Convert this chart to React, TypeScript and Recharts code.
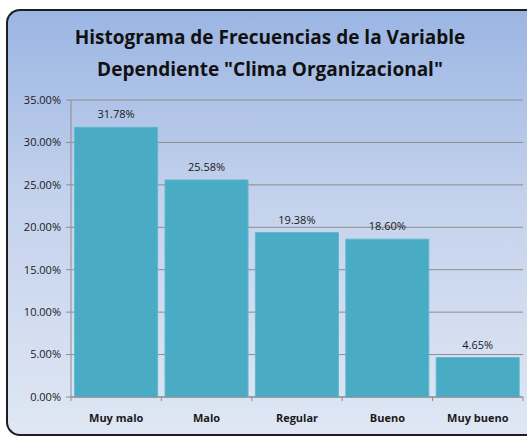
import { BarChart, Bar, XAxis, YAxis, CartesianGrid, LabelList } from "recharts";

const categories = ["Muy malo", "Malo", "Regular", "Bueno", "Muy bueno"];
const frequencies = [31.78, 25.58, 19.38, 18.6, 4.65];
const yTicks = [0, 5, 10, 15, 20, 25, 30, 35];

const data = categories.map((name, i) => ({ name, value: frequencies[i] }));

const FONT = "'Open Sans', 'Noto Sans', sans-serif";
const BAND = 90.4;

const pct = (v: number) => `${v.toFixed(2)}%`;

function CatTick(props: any) {
  const { x, payload, index } = props;
  const axisY = 397;
  return (
    <g>
      <line x1={x - BAND / 2} x2={x - BAND / 2} y1={axisY} y2={axisY + 4} stroke="#8c8c8c" />
      {index === categories.length - 1 && (
        <line x1={x + BAND / 2} x2={x + BAND / 2} y1={axisY} y2={axisY + 4} stroke="#8c8c8c" />
      )}
      <text x={x} y={axisY + 25} textAnchor="middle" fontSize={11} fontWeight={700} fill="#1a1a1a" fontFamily={FONT}>
        {payload.value}
      </text>
    </g>
  );
}

export default function App() {
  return (
    <div style={{ position: "fixed", left: 0, top: 0, width: 527, height: 438, overflow: "hidden", background: "#fff" }}>
      <div
        style={{
          position: "absolute",
          left: 6,
          top: 9,
          width: 560,
          height: 423,
          borderTop: "2px solid #1e1e1e",
          borderLeft: "2px solid #1e1e1e",
          borderBottom: "2px solid #1e1e1e",
          borderTopLeftRadius: 14,
          borderBottomLeftRadius: 14,
          background: "linear-gradient(to bottom, #9bb5e3 0%, #c4d2ec 45%, #dfe7f4 100%)",
        }}
      />
      <div
        style={{
          position: "absolute",
          left: 7,
          top: 21,
          width: 526,
          textAlign: "center",
          fontFamily: FONT,
          fontWeight: 700,
          fontSize: 19,
          lineHeight: "32px",
          color: "#111",
        }}
      >
        Histograma de Frecuencias de la Variable
        <br />
        Dependiente "Clima Organizacional"
      </div>
      <div style={{ position: "absolute", left: 0, top: 0 }}>
        <BarChart
          width={527}
          height={438}
          data={data}
          margin={{ top: 100, right: 4, bottom: 0, left: 0 }}
          barCategoryGap="4%"
        >
          <CartesianGrid vertical={false} stroke="#8c8c8c" />
          <XAxis
            dataKey="name"
            axisLine={{ stroke: "#8c8c8c" }}
            tickLine={false}
            tick={<CatTick />}
            interval={0}
            height={41}
          />
          <YAxis
            width={71}
            domain={[0, 35]}
            ticks={yTicks}
            tickFormatter={pct}
            axisLine={{ stroke: "#8c8c8c" }}
            tickLine={{ stroke: "#8c8c8c" }}
            tickSize={5}
            tickMargin={5}
            tick={{ fontSize: 11, fill: "#1a1a1a", fontFamily: FONT }}
            interval={0}
          />
          <Bar dataKey="value" fill="#4aabc5" stroke="#5db8d0" strokeWidth={1} isAnimationActive={false}>
            <LabelList dataKey="value" position="top" offset={9} formatter={(v: any) => pct(Number(v))} style={{ fontSize: 11, fill: "#1a1a1a", fontFamily: FONT }} />
          </Bar>
        </BarChart>
      </div>
    </div>
  );
}
